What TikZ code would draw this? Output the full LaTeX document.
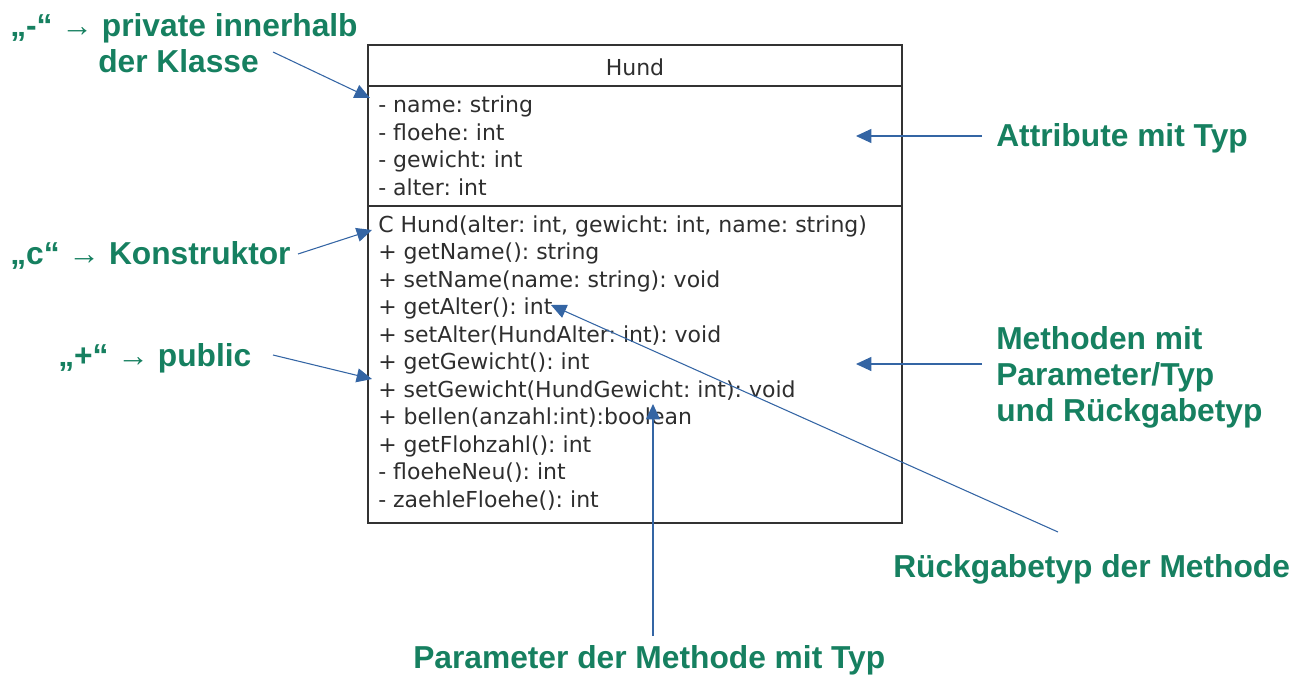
\documentclass[tikz,border=0pt]{standalone}
\usepackage{fontspec}
\setmainfont{DejaVu Sans}
\newfontfamily\notefont{Liberation Sans}
\usetikzlibrary{arrows.meta}
\definecolor{notegreen}{RGB}{22,128,96}
\definecolor{pointerblue}{RGB}{52,101,164}
\definecolor{boxgray}{RGB}{51,51,51}
\frenchspacing

\begin{document}
\begin{tikzpicture}[x=0.75pt,y=-0.75pt,
  note/.style={font=\notefont\bfseries\fontsize{23.8}{28}\selectfont, text=notegreen,
               inner sep=0pt, anchor=base west},
  member/.style={font=\fontsize{16.5}{20}\selectfont, text=boxgray!90!black,
                 inner sep=0pt, anchor=base west},
  pointer/.style={draw=pointerblue, line width=0.8pt,
                  -{Triangle[length=11.5pt,width=10.5pt]}},
  classline/.style={draw=boxgray, line width=1.4pt}]

\useasboundingbox (0,0) rectangle (1307,675);

% class box Hund
\draw[classline] (368,45) rectangle (902,523);
\draw[classline] (368,86) -- (902,86);
\draw[classline] (368,206) -- (902,206);
\node[member, anchor=base] (title) at (635,75) {Hund};

% attributes
\node[member] (a1) at (378,112.5) {- name: string};
\node[member] (a2) at (378,140)   {- floehe: int};
\node[member] (a3) at (378,167.5) {- gewicht: int};
\node[member] (a4) at (378,195)   {- alter: int};

% methods
\node[member] (m1)  at (378,232.3) {C Hund(alter: int, gewicht: int, name: string)};
\node[member] (m2)  at (378,259.8) {+ getName(): string};
\node[member] (m3)  at (378,287.3) {+ setName(name: string): void};
\node[member] (m4)  at (378,314.8) {+ getAlter(): int};
\node[member] (m5)  at (378,342.3) {+ setAlter(HundAlter: int): void};
\node[member] (m6)  at (378,369.8) {+ getGewicht(): int};
\node[member] (m7)  at (378,397.3) {+ setGewicht(HundGewicht: int): void};
\node[member] (m8)  at (378,424.8) {+ bellen(anzahl:int):boolean};
\node[member] (m9)  at (378,452.3) {+ getFlohzahl(): int};
\node[member] (m10) at (378,479.8) {- floeheNeu(): int};
\node[member] (m11) at (378,507.3) {- zaehleFloehe(): int};

% annotations
\node[note] (priv)   at (10,36)  {„-“ {\mdseries →} private innerhalb};
\node[note] (privb)  at (98,72)  {der Klasse};
\node[note] (ctor)   at (10,264) {„c“ {\mdseries →} Konstruktor};
\node[note] (pub)    at (58,366) {„+“ {\mdseries →} public};
\node[note] (attr)   at (996,146) {Attribute mit Typ};
\node[note] (meth)   at (996,349) {Methoden mit};
\node[note] (methb)  at (996,385) {Parameter/Typ};
\node[note] (methc)  at (996,421) {und Rückgabetyp};
\node[note] (ret)    at (893,577) {Rückgabetyp der Methode};
\node[note] (param)  at (413,668) {Parameter der Methode mit Typ};

% pointer ends
\coordinate (privS)  at (273,52);   \coordinate (privT)  at (370,98);
\coordinate (ctorS)  at (298,254);  \coordinate (ctorT)  at (372,230);
\coordinate (pubS)   at (273,355);  \coordinate (pubT)   at (372,379);
\coordinate (attrS)  at (982,136);  \coordinate (attrT)  at (856,136);
\coordinate (methS)  at (982,364);  \coordinate (methT)  at (856,364);
\coordinate (retS)   at (1058,532); \coordinate (retT)   at (551,305);
\coordinate (paramS) at (653,636);  \coordinate (paramT) at (653,404);

\draw[pointer] (privS) -- (privT);
\draw[pointer] (ctorS) -- (ctorT);
\draw[pointer] (pubS) -- (pubT);
\draw[pointer] (attrS) -- (attrT);
\draw[pointer] (methS) -- (methT);
\draw[pointer] (retS) -- (retT);
\draw[pointer] (paramS) -- (paramT);
\end{tikzpicture}
\end{document}
